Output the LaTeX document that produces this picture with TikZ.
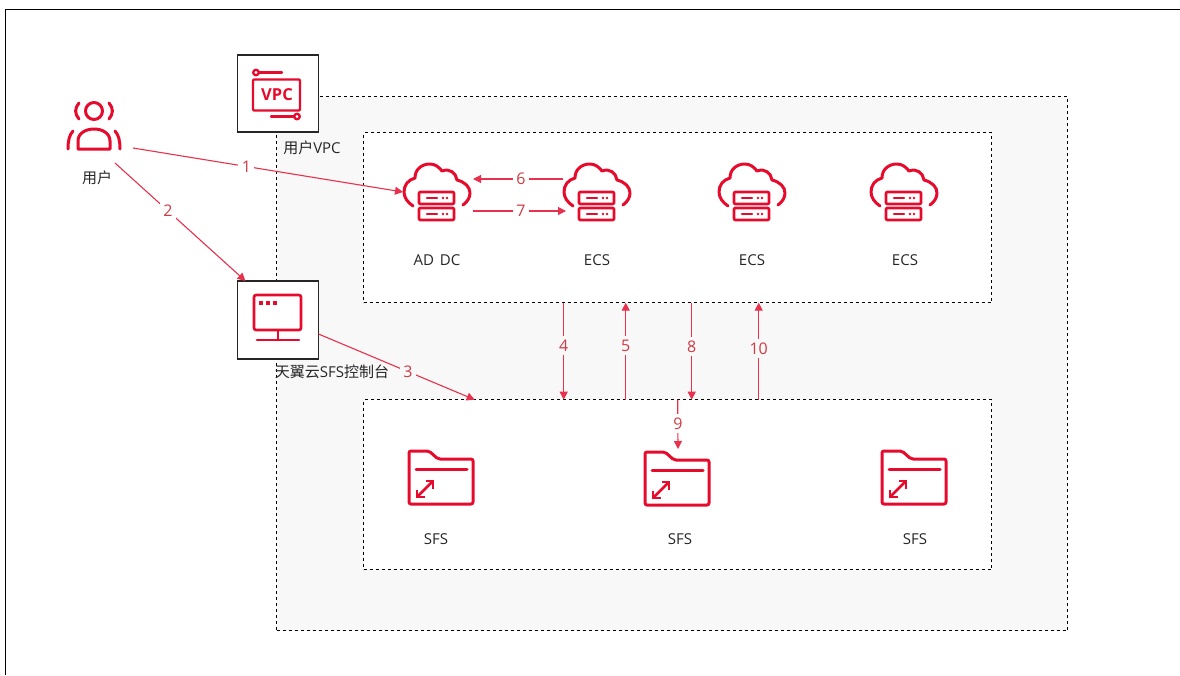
\documentclass[tikz,border=0pt]{standalone}
\usepackage{fontspec}
\setmainfont{Open Sans}
\newfontfamily\cjk{Noto Sans CJK SC}
\usetikzlibrary{arrows.meta}
\definecolor{iconred}{HTML}{E60B2C}
\definecolor{linered}{HTML}{E8314C}
\definecolor{numred}{HTML}{CF3A44}
\definecolor{zonegray}{HTML}{F8F8F8}
\definecolor{txtgray}{HTML}{262626}

\tikzset{
  zone/.style={draw=black, dashed, line width=0.8pt, inner sep=0pt, outer sep=0pt},
  iconbox/.style={draw=black!85, fill=white, line width=1.1pt, inner sep=0pt, outer sep=0pt},
  iconspot/.style={inner sep=0pt, outer sep=0pt},
  caption/.style={text=txtgray, font=\fontsize{15}{16}\selectfont, inner sep=0pt},
  link/.style={draw=linered, line width=1.1pt, -{Triangle[length=8pt,width=8pt]}},
  num/.style={text=numred, font=\fontsize{16}{17}\selectfont, inner sep=3.5pt},
  icon/.style={draw=iconred, line width=3pt, line cap=round, line join=round},
  usericon/.pic={
    \draw[icon] (0,-14) circle (8.5);
    \draw[icon] (-15,-22) .. controls (-19.5,-17) and (-19.5,-11) .. (-15,-6);
    \draw[icon] (15,-22) .. controls (19.5,-17) and (19.5,-11) .. (15,-6);
    \draw[icon] (-16,24) -- (-16,16) .. controls (-16,8) and (-8,4) .. (0,4) .. controls (8,4) and (16,8) .. (16,16) -- (16,24) -- cycle;
    \draw[icon] (-21,6) .. controls (-25,10) and (-26,17) .. (-26,24);
    \draw[icon] (21,6) .. controls (25,10) and (26,17) .. (26,24);
  },
  vpcicon/.pic={
    \draw[icon, line width=2.3pt] (-22,-21) circle (2.8);
    \draw[icon, line width=2.3pt] (-19,-21) -- (4,-21);
    \draw[icon, line width=2.3pt, rounded corners=1pt] (-25,-14) rectangle (22,17);
    \node[iconspot, text=iconred, font=\fontsize{16.5}{18}\bfseries\selectfont] (vpcText) at (-1,1) {VPC};
    \draw[icon, line width=2.3pt] (19,23) circle (2.8);
    \draw[icon, line width=2.3pt] (-7,23) -- (16,23);
  },
  consoleicon/.pic={
    \draw[icon, line width=2.6pt, rounded corners=2pt] (-24,-25) rectangle (23,10);
    \foreach \dotx in {-17,-10,-3}
      \fill[iconred] (\dotx-2,-19.5) rectangle (\dotx+2,-15.5);
    \draw[icon, line width=2.6pt] (0,10) -- (0,20);
    \draw[icon, line width=2.6pt] (-21,20) -- (21,20);
  },
  cloudicon/.pic={
    \draw[icon] (-24,14) .. controls (-30,10) and (-33,5) .. (-33,0) .. controls (-33,-7) and (-29,-12) .. (-22,-14)
      .. controls (-22,-23) and (-15,-28) .. (-7,-28) .. controls (-2,-28) and (2,-25) .. (5,-21)
      .. controls (13,-24) and (19,-19) .. (20,-12) .. controls (28,-10) and (33,-5) .. (33,1) .. controls (33,6) and (30,10) .. (26,13);
    \foreach \rowy in {0,16}{
      \draw[icon, line width=2.6pt, rounded corners=1pt] (-18,\rowy) rectangle (17,\rowy+12);
      \draw[icon, line width=2.4pt] (-10,\rowy+6) -- (0,\rowy+6);
      \fill[iconred] (6,\rowy+6) circle (1.4);
      \fill[iconred] (10,\rowy+6) circle (1.4);
    }
  },
  foldericon/.pic={
    \draw[icon, rounded corners=2pt] (-32,-26) -- (-12,-26) -- (-3,-18) -- (32,-18) -- (32,27) -- (-32,27) -- cycle;
    \draw[icon] (-25,-8) -- (26,-8);
    \draw[icon, line width=2.6pt] (-23,19) -- (-9,5);
    \draw[icon, line width=2.6pt, line cap=butt, line join=miter] (-24,13) -- (-24,20) -- (-16,20);
    \draw[icon, line width=2.6pt, line cap=butt, line join=miter] (-15,4) -- (-8,4) -- (-8,12);
  },
}

\begin{document}
\begin{tikzpicture}[x=1pt, y=-1pt]
  \useasboundingbox (0,0) rectangle (1180,675);
  \draw[line width=0.9pt] (5,675) -- (5,9) -- (1180,9);

  % zones
  \node[zone, fill=zonegray, minimum width=791pt, minimum height=534pt] (vpcZone) at (672,363.7) {};
  \node[zone, fill=white, minimum width=628pt, minimum height=170pt] (ecsZone) at (677.7,217.7) {};
  \node[zone, fill=white, minimum width=628pt, minimum height=170pt] (sfsZone) at (677.7,484.7) {};

  % boxes on the zone border
  \node[iconbox, minimum width=81pt, minimum height=77pt] (vpcBox) at (278,93.5) {};
  \node[iconbox, minimum width=81pt, minimum height=78pt] (consoleBox) at (278,320) {};
  \pic at (vpcBox) {vpcicon};
  \pic at (consoleBox) {consoleicon};

  % icons
  \node[iconspot, minimum width=78pt, minimum height=76pt] (user) at (94,125) {};
  \node[iconspot, minimum width=68pt, minimum height=56pt] (adDC) at (437,192) {};
  \node[iconspot, minimum width=68pt, minimum height=56pt] (ecsA) at (597,192) {};
  \node[iconspot, minimum width=68pt, minimum height=56pt] (ecsB) at (752,192) {};
  \node[iconspot, minimum width=68pt, minimum height=56pt] (ecsC) at (904,192) {};
  \node[iconspot, minimum width=64pt, minimum height=54pt] (sfsA) at (441,477) {};
  \node[iconspot, minimum width=64pt, minimum height=54pt] (sfsB) at (677,478) {};
  \node[iconspot, minimum width=64pt, minimum height=54pt] (sfsC) at (914,477) {};
  \pic at (user) {usericon};
  \foreach \nm in {adDC,ecsA,ecsB,ecsC}
    \pic at (\nm) {cloudicon};
  \foreach \nm in {sfsA,sfsB,sfsC}
    \pic at (\nm) {foldericon};

  % captions
  \node[caption] (userText) at (97,178) {\cjk 用户};
  \node[caption] (vpcCap) at (312,148) {{\cjk 用户}VPC};
  \node[caption] (consoleCap) at (332,372) {{\cjk 天翼云}SFS{\cjk 控制台}};
  \node[caption] (adText) at (437,260) {AD\hspace{2pt} DC};
  \node[caption] (ecsAText) at (597,260) {ECS};
  \node[caption] (ecsBText) at (752,260) {ECS};
  \node[caption] (ecsCText) at (905,260) {ECS};
  \node[caption] (sfsAText) at (436,539) {SFS};
  \node[caption] (sfsBText) at (680,539) {SFS};
  \node[caption] (sfsCText) at (915,539) {SFS};

  % connectors
  \draw[link] ([yshift=-23pt]user.east) -- node[num, fill=white, pos=.42] {1} (adDC.west);
  \draw[link] ([xshift=21pt]user.south) -- node[num, fill=white, pos=.405] {2} ([xshift=8pt]consoleBox.north west);
  \draw[link] ([yshift=-14pt]consoleBox.east) -- node[num, fill=zonegray, pos=.573] {3} ([xshift=111pt]sfsZone.north west);
  \draw[link] ([xshift=200pt]ecsZone.south west) -- node[num, fill=zonegray, pos=.44] {4} ([xshift=200pt]sfsZone.north west);
  \draw[link] ([xshift=262pt]sfsZone.north west) -- node[num, fill=zonegray, pos=.557] {5} ([xshift=262pt]ecsZone.south west);
  \draw[link] ([yshift=13pt]ecsA.west) -- node[num, fill=white, pos=.467] {6} ([xshift=2pt,yshift=13pt]adDC.east);
  \draw[link] ([xshift=2pt,yshift=-19pt]adDC.east) -- node[num, fill=white, pos=.516] {7} ([xshift=3pt,yshift=-19pt]ecsA.west);
  \draw[link] ([xshift=328pt]ecsZone.south west) -- node[num, fill=zonegray, pos=.45] {8} ([xshift=328pt]sfsZone.north west);
  \draw[link] (sfsZone.north) -- node[num, fill=white, pos=.48] {9} ([xshift=1pt,yshift=2pt]sfsB.north);
  \draw[link] ([xshift=395pt]sfsZone.north west) -- node[num, fill=zonegray, pos=.526] {10} ([xshift=395pt]ecsZone.south west);
\end{tikzpicture}
\end{document}
